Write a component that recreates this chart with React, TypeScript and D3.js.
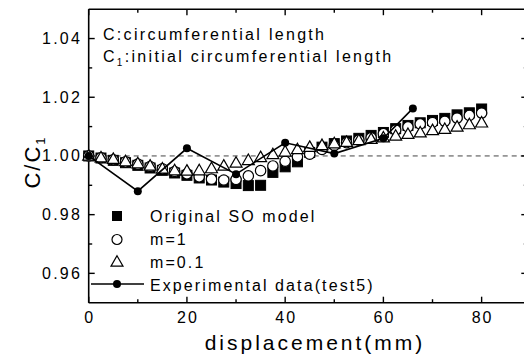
import React from "react";
import * as d3 from "d3";

const xs = [0, 2.5, 5, 7.5, 10, 12.5, 15, 17.5, 20, 22.5, 25, 27.5, 30, 32.5, 35, 37.5, 40, 42.5, 45, 47.5, 50, 52.5, 55, 57.5, 60, 62.5, 65, 67.5, 70, 72.5, 75, 77.5, 80];

const soModel = [1.0, 0.9993, 0.9985, 0.9977, 0.9968, 0.9959, 0.9951, 0.9942, 0.9934, 0.9925, 0.9918, 0.9911, 0.9906, 0.9899, 0.99, 0.9944, 0.9963, 0.998, 1.0012, 1.003, 1.0042, 1.0051, 1.006, 1.007, 1.008, 1.0093, 1.0104, 1.0113, 1.0121, 1.0128, 1.014, 1.0147, 1.016];

const m1 = [1.0, 0.9994, 0.9987, 0.998, 0.9972, 0.9964, 0.9956, 0.9947, 0.9939, 0.9929, 0.9921, 0.9918, 0.992, 0.9932, 0.995, 0.9966, 0.9982, 0.9997, 1.0006, 1.0022, 1.0036, 1.0045, 1.0054, 1.0062, 1.0076, 1.0088, 1.0099, 1.0109, 1.0114, 1.0118, 1.0129, 1.0138, 1.0146];

const m01 = [1.0, 0.9994, 0.9989, 0.9981, 0.9974, 0.9966, 0.9956, 0.995, 0.9949, 0.995, 0.9957, 0.9966, 0.9976, 0.9985, 0.9995, 1.0005, 1.0014, 1.0022, 1.003, 1.0036, 1.0042, 1.0047, 1.0053, 1.0057, 1.0062, 1.0068, 1.0074, 1.0079, 1.0087, 1.0091, 1.0099, 1.0107, 1.0113];

const expX = [0, 10, 20, 30, 40, 50, 60, 66];
const expY = [1.0, 0.988, 1.0026, 0.9938, 1.0045, 1.0008, 1.006, 1.0162];

const xMajor = [0, 20, 40, 60, 80];
const xMinor = [10, 30, 50, 70];
const yMajor = [0.96, 0.98, 1.0, 1.02, 1.04];
const yMinor = [0.97, 0.99, 1.01, 1.03];

const legendLabels = ["Original SO model", "m=1", "m=0.1", "Experimental data(test5)"];
const noteLines = ["C:circumferential length", "C", ":initial circumferential length"];

const W = 524;
const H = 356;
const FONT = "'Liberation Sans', Arial, sans-serif";

export default function App() {
  const x = d3.scaleLinear().domain([0, 89.3]).range([88.7, 527.3]);
  const y = d3.scaleLinear().domain([0.95, 1.05]).range([302.7, 9.2]);
  const left = x(0);
  const right = x(89.3);
  const top = y(1.05);
  const bottom = y(0.95);
  const line = d3.line<number>().x((_, i) => x(expX[i])).y((d) => y(d));
  const tri = (cx: number, cy: number, w = 12, h = 10.5) =>
    `M${cx},${cy - h * 0.6}L${cx + w / 2},${cy + h * 0.4}L${cx - w / 2},${cy + h * 0.4}Z`;
  const sq = 10;
  const cr = 5.2;
  const maj = 6;
  const min = 3.5;

  return (
    <svg width={W} height={H} style={{ position: "absolute", left: 0, top: 0, background: "#fff" }} fontFamily={FONT}>
      <rect x={0} y={0} width={W} height={H} fill="#fff" />
      {/* dashed reference line */}
      <line x1={left} x2={right} y1={y(1.0)} y2={y(1.0)} stroke="#444" strokeWidth={1} strokeDasharray="5,4" />

      {/* frame */}
      <line x1={left} x2={left} y1={top} y2={bottom} stroke="#000" strokeWidth={1.6} />
      <line x1={left} x2={right} y1={bottom} y2={bottom} stroke="#000" strokeWidth={1.6} />
      <line x1={left} x2={right} y1={top} y2={top} stroke="#000" strokeWidth={1.6} />
      <line x1={right} x2={right} y1={top} y2={bottom} stroke="#000" strokeWidth={1.6} />

      {/* x ticks */}
      {xMajor.map((v) => (
        <g key={"xm" + v}>
          <line x1={x(v)} x2={x(v)} y1={bottom} y2={bottom - maj} stroke="#000" strokeWidth={1.4} />
          <line x1={x(v)} x2={x(v)} y1={top} y2={top + maj} stroke="#000" strokeWidth={1.4} />
          <text x={x(v) + 1} y={323} fontSize={16} letterSpacing={2} textAnchor="middle" fill="#000">
            {v}
          </text>
        </g>
      ))}
      {xMinor.map((v) => (
        <g key={"xn" + v}>
          <line x1={x(v)} x2={x(v)} y1={bottom} y2={bottom - min} stroke="#000" strokeWidth={1.4} />
          <line x1={x(v)} x2={x(v)} y1={top} y2={top + min} stroke="#000" strokeWidth={1.4} />
        </g>
      ))}
      {/* y ticks */}
      {yMajor.map((v) => (
        <g key={"ym" + v}>
          <line x1={left} x2={left + maj} y1={y(v)} y2={y(v)} stroke="#000" strokeWidth={1.4} />
          <line x1={right} x2={right - maj} y1={y(v)} y2={y(v)} stroke="#000" strokeWidth={1.4} />
          <text x={82} y={y(v) + 5.5} fontSize={16} letterSpacing={2.2} textAnchor="end" fill="#000">
            {v.toFixed(2)}
          </text>
        </g>
      ))}
      {yMinor.map((v) => (
        <g key={"yn" + v}>
          <line x1={left} x2={left + min} y1={y(v)} y2={y(v)} stroke="#000" strokeWidth={1.4} />
          <line x1={right} x2={right - min} y1={y(v)} y2={y(v)} stroke="#000" strokeWidth={1.4} />
        </g>
      ))}

      {/* series: squares */}
      {soModel.map((v, i) => (
        <rect key={"s" + i} x={x(xs[i]) - sq / 2} y={y(v) - sq / 2} width={sq} height={sq} fill="#000" stroke="#000" strokeWidth={1} />
      ))}
      {/* circles */}
      {m1.map((v, i) => (
        <circle key={"c" + i} cx={x(xs[i])} cy={y(v)} r={cr} fill="#fff" stroke="#000" strokeWidth={1.2} />
      ))}
      {/* triangles */}
      {m01.map((v, i) => (
        <path key={"t" + i} d={tri(x(xs[i]), y(v))} fill="#fff" stroke="#000" strokeWidth={1.2} />
      ))}
      {/* experimental */}
      <path d={line(expY) || ""} fill="none" stroke="#000" strokeWidth={1.6} />
      {expY.map((v, i) => (
        <circle key={"e" + i} cx={x(expX[i])} cy={y(v)} r={4} fill="#000" />
      ))}

      {/* note */}
      <text x={103} y={40} fontSize={16} letterSpacing={2.3} fill="#000">
        {noteLines[0]}
      </text>
      <text x={103} y={62} fontSize={16} letterSpacing={2.3} fill="#000">
        {noteLines[1]}
        <tspan fontSize={10} dy={4}>1</tspan>
        <tspan dy={-4}>{noteLines[2]}</tspan>
      </text>

      {/* legend */}
      <rect x={117 - 5} y={216 - 5} width={10} height={10} fill="#000" />
      <circle cx={117} cy={239.5} r={5} fill="#fff" stroke="#000" strokeWidth={1.2} />
      <path d={tri(117, 262, 12, 10.5)} fill="#fff" stroke="#000" strokeWidth={1.2} />
      <line x1={91} x2={144} y1={284} y2={284} stroke="#000" strokeWidth={1.6} />
      <circle cx={117} cy={284} r={4} fill="#000" />
      {legendLabels.map((t, i) => (
        <text key={t} x={150} y={221.5 + i * 23} fontSize={16} letterSpacing={2.1} fill="#000">
          {t}
        </text>
      ))}

      {/* axis titles */}
      <text x={315} y={350} fontSize={21} letterSpacing={3} textAnchor="middle" fill="#000">
        displacement(mm)
      </text>
      <text transform="translate(40,162) rotate(-90)" fontSize={22} letterSpacing={2} textAnchor="middle" fill="#000">
        C/C<tspan fontSize={13} dy={5}>1</tspan>
      </text>
    </svg>
  );
}
